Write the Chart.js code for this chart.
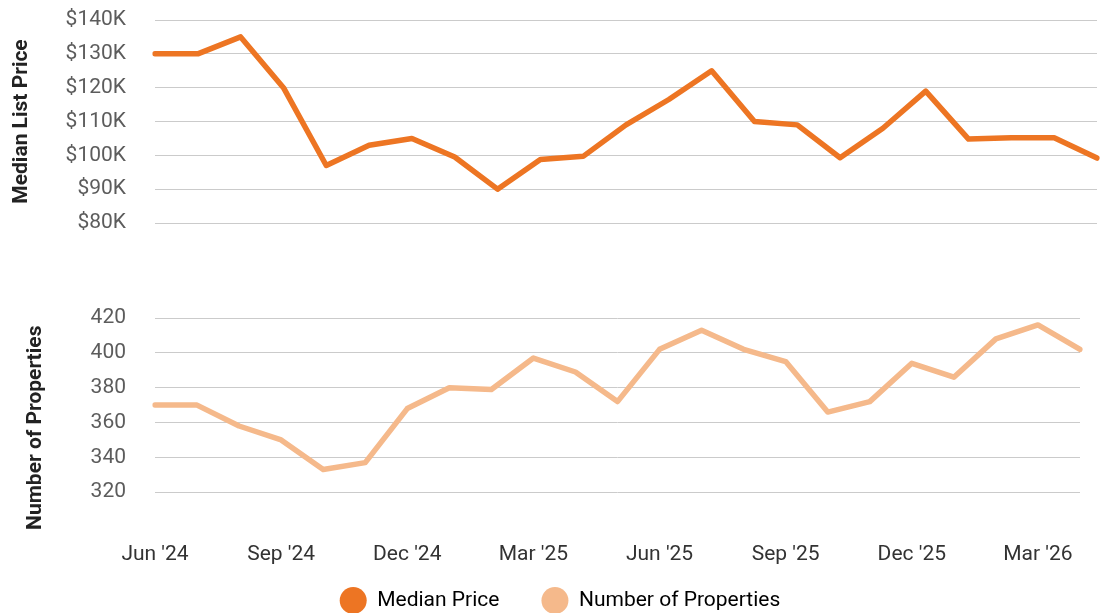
<!DOCTYPE html>
<html>
<head>
<meta charset="utf-8">
<script src="https://cdn.jsdelivr.net/npm/chart.js@4.4.1/dist/chart.umd.min.js"></script>
<style>
  html, body { margin: 0; padding: 0; background: #fff; overflow: hidden; }
  #wrap { position: relative; width: 1103px; height: 613px; }
  #countBox { position: absolute; left: 0; top: 240px; width: 1103px; height: 373px; z-index: 1; }
  #priceBox { position: absolute; left: 0; top: 0; width: 1103px; height: 613px; z-index: 2; }
</style>
</head>
<body>
<div id="wrap">
  <div id="countBox"><canvas id="countChart"></canvas></div>
  <div id="priceBox"><canvas id="priceChart"></canvas></div>
</div>
<script>
const months = ["Jun '24", "Jul '24", "Aug '24", "Sep '24", "Oct '24", "Nov '24", "Dec '24",
    "Jan '25", "Feb '25", "Mar '25", "Apr '25", "May '25", "Jun '25", "Jul '25", "Aug '25",
    "Sep '25", "Oct '25", "Nov '25", "Dec '25", "Jan '26", "Feb '26", "Mar '26", "Apr '26"];
const xTickLabels = ["Jun '24", "Sep '24", "Dec '24", "Mar '25", "Jun '25", "Sep '25", "Dec '25", "Mar '26"];

const medianPrice = [130000, 130000, 135000, 120000, 97000, 103000, 105000, 99500, 90000, 98800,
    99700, 109000, 116500, 125000, 110000, 109000, 99300, 108000, 119000, 104800, 105200, 105200, 99200];
const propertyCount = [370, 370, 358, 350, 333, 337, 368, 380, 379, 397, 389, 372, 402, 413, 402,
    395, 366, 372, 394, 386, 408, 416, 402];

const priceTicks = [80000, 90000, 100000, 110000, 120000, 130000, 140000];
const countTicks = [320, 340, 360, 380, 400, 420];

const seriesNames = ['Median Price', 'Number of Properties'];
const seriesColors = ['#ED7523', '#F5B98B'];

Chart.defaults.font.family = 'Roboto';
Chart.defaults.animation = false;

const gridColor = '#cbcbcb';
const tickColor = '#5c5c5c';
const titleColor = '#222222';

// fixed axis width, and no extra top/bottom room for the end labels
function fixAxis(width) {
    return function (scale) {
        scale.width = width;
        scale.paddingTop = 0;
        scale.paddingBottom = 0;
    };
}

// top panel: median list price; its canvas spans the whole page and carries the legend
new Chart(document.getElementById('priceChart'), {
    type: 'line',
    data: {
        labels: months,
        datasets: [{
            label: seriesNames[0],
            data: medianPrice,
            borderColor: seriesColors[0],
            backgroundColor: seriesColors[0],
            borderWidth: 5.5,
            borderCapStyle: 'round',
            borderJoinStyle: 'round',
            pointRadius: 0,
            tension: 0
        }]
    },
    options: {
        responsive: true,
        maintainAspectRatio: false,
        layout: { padding: { top: 20, right: 6, bottom: -8, left: 23 } },
        plugins: {
            tooltip: { enabled: false },
            legend: {
                position: 'bottom',
                labels: {
                    usePointStyle: true,
                    pointStyleWidth: 27,
                    boxHeight: 19,
                    padding: 42,
                    color: '#333333',
                    font: { size: 21 },
                    generateLabels: function () {
                        return seriesNames.map((name, i) => ({
                            text: name,
                            fillStyle: seriesColors[i],
                            strokeStyle: seriesColors[i],
                            lineWidth: 0,
                            pointStyle: 'circle',
                            hidden: false,
                            datasetIndex: 0
                        }));
                    }
                }
            }
        },
        scales: {
            // empty axis that holds the space between the price plot and the legend
            x: {
                grid: { display: false },
                border: { display: false },
                ticks: { display: false },
                afterFit: function (scale) { scale.height = 325; }
            },
            y: {
                min: 80000,
                max: 140000,
                afterBuildTicks: function (scale) {
                    scale.ticks = priceTicks.map(v => ({ value: v }));
                },
                afterFit: fixAxis(132),
                grid: { color: gridColor, drawTicks: false },
                border: { display: false },
                ticks: {
                    padding: 29,
                    color: tickColor,
                    font: { size: 21 },
                    callback: v => '$' + (v / 1000) + 'K'
                },
                title: {
                    display: true,
                    text: 'Median List Price',
                    color: titleColor,
                    font: { size: 21, weight: 'bold' },
                    padding: { top: -14, bottom: 0 }
                }
            }
        }
    }
});

// bottom panel: number of properties
new Chart(document.getElementById('countChart'), {
    type: 'line',
    data: {
        labels: months,
        datasets: [{
            label: seriesNames[1],
            data: propertyCount,
            borderColor: seriesColors[1],
            backgroundColor: seriesColors[1],
            borderWidth: 5.5,
            borderCapStyle: 'round',
            borderJoinStyle: 'round',
            pointRadius: 0,
            tension: 0
        }]
    },
    options: {
        responsive: true,
        maintainAspectRatio: false,
        layout: { padding: { top: 78, right: 23, bottom: 35.5, left: 0 } },
        plugins: { legend: { display: false }, tooltip: { enabled: false } },
        scales: {
            x: {
                grid: { display: false },
                border: { display: false },
                afterFit: function (scale) { scale.height = 40; },
                ticks: {
                    autoSkip: false,
                    maxRotation: 0,
                    padding: 8.3,
                    color: '#333333',
                    font: { size: 21, lineHeight: 0.09 },
                    callback: function (value) {
                        const label = this.getLabelForValue(value);
                        return xTickLabels.includes(label) ? label : null;
                    }
                }
            },
            y: {
                min: 294,
                max: 420,
                afterBuildTicks: function (scale) {
                    scale.ticks = countTicks.map(v => ({ value: v }));
                },
                afterFit: fixAxis(155),
                grid: { color: gridColor, drawTicks: false },
                border: { display: false },
                ticks: {
                    padding: 29,
                    color: tickColor,
                    font: { size: 21 }
                },
                title: {
                    display: true,
                    text: 'Number of Properties',
                    color: titleColor,
                    font: { size: 21, weight: 'bold' },
                    padding: { top: 23, bottom: 0 }
                }
            }
        }
    }
});
</script>
</body>
</html>
